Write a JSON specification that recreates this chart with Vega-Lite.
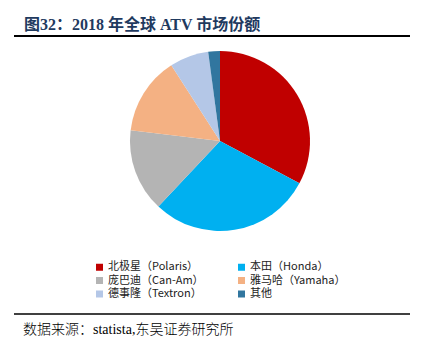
{
  "$schema": "https://vega.github.io/schema/vega-lite/v6.json",
  "autosize": {"type": "pad"},
  "padding": {"left": 13, "top": 17, "right": 13, "bottom": 5},
  "background": "white",
  "config": {"view": {"stroke": null}},
  "title": {
    "text": "图32：2018 年全球 ATV 市场份额",
    "orient": "top",
    "anchor": "start",
    "frame": "group",
    "offset": -11,
    "dx": 10,
    "baseline": "alphabetic",
    "fontSize": 16,
    "fontWeight": "bold",
    "color": "#1F3A5F",
    "font": "Liberation Serif, Noto Sans CJK SC"
  },
  "vconcat": [
    {
      "width": 396,
      "height": 278,
      "title": {
        "text": "数据来源：statista,东吴证券研究所",
        "orient": "bottom",
        "anchor": "start",
        "frame": "group",
        "offset": 8,
        "dx": 9,
        "fontSize": 14,
        "fontWeight": 300,
        "color": "#000000",
        "font": "Liberation Serif, Noto Sans CJK SC"
      },
      "layer": [
        {
          "data": {
            "values": [
              {"company": "北极星（Polaris）", "share": 32.8, "rank": 1},
              {"company": "本田（Honda）", "share": 29.2, "rank": 2},
              {"company": "庞巴迪（Can-Am）", "share": 14.9, "rank": 3},
              {"company": "雅马哈（Yamaha）", "share": 14.0, "rank": 4},
              {"company": "德事隆（Textron）", "share": 7.0, "rank": 5},
              {"company": "其他", "share": 2.1, "rank": 6}
            ]
          },
          "mark": {"type": "arc", "outerRadius": 90, "xOffset": 8, "yOffset": -34},
          "encoding": {
            "theta": {"field": "share", "type": "quantitative", "stack": true},
            "order": {"field": "rank", "type": "quantitative"},
            "color": {
              "field": "company",
              "type": "nominal",
              "sort": null,
              "scale": {
                "domain": ["北极星（Polaris）", "本田（Honda）", "庞巴迪（Can-Am）", "雅马哈（Yamaha）", "德事隆（Textron）", "其他"],
                "range": ["#C00000", "#00B0F0", "#B4B4B4", "#F4B183", "#B4C7E7", "#31769F"]
              },
              "legend": {
                "orient": "none",
                "direction": "horizontal",
                "legendX": 80,
                "legendY": 225.5,
                "title": null,
                "columns": 2,
                "columnPadding": 32,
                "rowPadding": 1.5,
                "symbolType": "square",
                "symbolSize": 49,
                "symbolStrokeWidth": 0,
                "labelFont": "Noto Sans CJK SC",
                "labelFontSize": 11,
                "labelColor": "#222222",
                "labelOffset": 3,
                "labelLimit": 200
              }
            }
          }
        },
        {
          "data": {"values": [{}]},
          "mark": {"type": "rule", "color": "#000000", "strokeWidth": 2},
          "encoding": {"y": {"value": 0}}
        },
        {
          "data": {"values": [{}]},
          "mark": {"type": "rule", "color": "#000000", "strokeWidth": 1.5},
          "encoding": {"y": {"value": 278}}
        }
      ]
    }
  ]
}
